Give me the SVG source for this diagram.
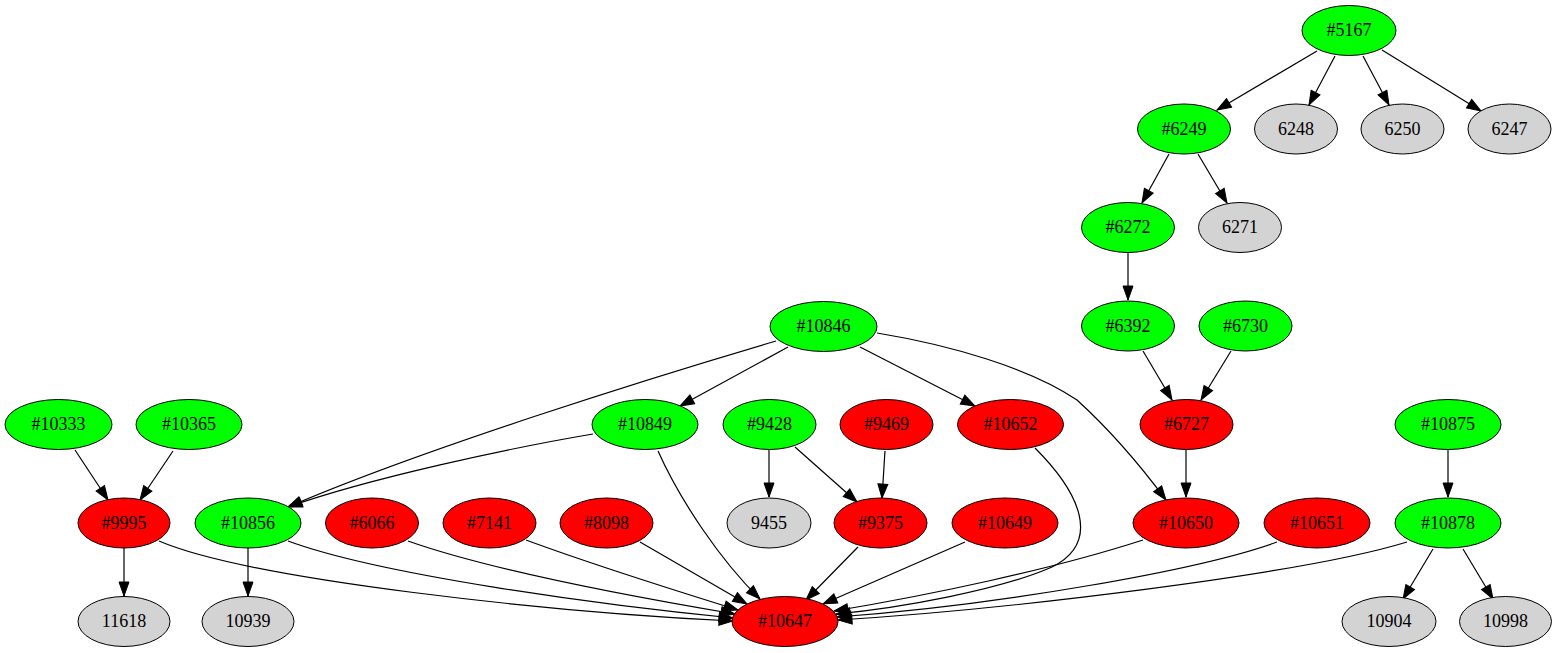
<svg xmlns="http://www.w3.org/2000/svg" width="1559" height="653" viewBox="0 0 1559 653">
<style>
.g ellipse{stroke:#000;stroke-width:1}
.green{fill:#00ff00}
.red{fill:#ff0000}
.grey{fill:#d3d3d3}
text{font-family:"Liberation Serif","Times New Roman",serif;font-size:18px;text-anchor:middle;fill:#000}
.edges path{fill:none;stroke:#000;stroke-width:1.2;marker-end:url(#ah)}
</style>
<defs>
<marker id="ah" markerWidth="14" markerHeight="10" refX="14" refY="5" orient="auto" markerUnits="userSpaceOnUse" overflow="visible">
<path d="M0,0 L14,5 L0,10 z" fill="#000" stroke="#000" stroke-width="1"/>
</marker>
</defs>
<rect width="1559" height="653" fill="#fff"/>
<g class="edges">
<path d="M1317,51 L1217,110"/>
<path d="M1335,56 L1309,105"/>
<path d="M1363,56 L1389,105"/>
<path d="M1382,50 L1481,111"/>
<path d="M1169,154 L1142,203"/>
<path d="M1198,154 L1227,203"/>
<path d="M1128,253 L1128,300"/>
<path d="M1143,351 L1172,400"/>
<path d="M1231,351 L1201,400"/>
<path d="M1186,450 L1186,497"/>
<path d="M788,347 L680,406"/>
<path d="M776,341 C650,378 420,450 288,507"/>
<path d="M593,434 C510,448 370,478 288,507"/>
<path d="M860,347 L975,406"/>
<path d="M877,333 C950,345 1030,368 1077,400 C1110,430 1140,465 1166,500"/>
<path d="M658,451 C680,500 720,560 760,599"/>
<path d="M769,450 L769,497"/>
<path d="M795,447 L857,502"/>
<path d="M885,451 L882,498"/>
<path d="M75,450 L108,500"/>
<path d="M173,451 L140,500"/>
<path d="M124,548 L124,596"/>
<path d="M248,548 L248,596"/>
<path d="M1448,450 L1448,497"/>
<path d="M1433,549 L1403,599"/>
<path d="M1463,549 L1493,599"/>
<path d="M159,541 C250,580 550,612 733,621"/>
<path d="M288,541 C380,575 600,605 733,618"/>
<path d="M408,541 C490,570 640,598 735,614"/>
<path d="M526,540 C580,560 680,592 738,610"/>
<path d="M640,542 L747,604"/>
<path d="M858,547 L806,600"/>
<path d="M965,542 L823,604"/>
<path d="M1035,448 C1080,493 1102,542 1052,567 C1000,590 900,608 836,614"/>
<path d="M1143,540 C1050,570 930,595 834,611"/>
<path d="M1277,542 C1200,570 1000,605 837,617"/>
<path d="M1407,542 C1300,575 1000,610 838,620"/>
</g>
<g class="g" id="n5167"><ellipse class="green" cx="1349" cy="30.5" rx="47" ry="25"/><text x="1349" y="36">#5167</text></g>
<g class="g" id="n6249"><ellipse class="green" cx="1184" cy="129" rx="46.5" ry="25"/><text x="1184" y="134.5">#6249</text></g>
<g class="g" id="n6248"><ellipse class="grey" cx="1296" cy="129" rx="41.5" ry="25"/><text x="1296" y="134.5">6248</text></g>
<g class="g" id="n6250"><ellipse class="grey" cx="1402.5" cy="129" rx="41.5" ry="25"/><text x="1402.5" y="134.5">6250</text></g>
<g class="g" id="n6247"><ellipse class="grey" cx="1509.5" cy="129" rx="41.5" ry="25"/><text x="1509.5" y="134.5">6247</text></g>
<g class="g" id="n6272"><ellipse class="green" cx="1128" cy="227.5" rx="46.5" ry="25"/><text x="1128" y="233">#6272</text></g>
<g class="g" id="n6271"><ellipse class="grey" cx="1240" cy="227.5" rx="41.5" ry="25"/><text x="1240" y="233">6271</text></g>
<g class="g" id="n10846"><ellipse class="green" cx="823.5" cy="326.5" rx="53.5" ry="25"/><text x="823.5" y="332">#10846</text></g>
<g class="g" id="n6392"><ellipse class="green" cx="1128" cy="326" rx="46.5" ry="25"/><text x="1128" y="331.5">#6392</text></g>
<g class="g" id="n6730"><ellipse class="green" cx="1245.5" cy="326" rx="46.5" ry="25"/><text x="1245.5" y="331.5">#6730</text></g>
<g class="g" id="n10333"><ellipse class="green" cx="58.5" cy="424.5" rx="53.5" ry="25"/><text x="58.5" y="430">#10333</text></g>
<g class="g" id="n10365"><ellipse class="green" cx="189" cy="424.5" rx="53" ry="25"/><text x="189" y="430">#10365</text></g>
<g class="g" id="n10849"><ellipse class="green" cx="645" cy="424.5" rx="53" ry="25"/><text x="645" y="430">#10849</text></g>
<g class="g" id="n9428"><ellipse class="green" cx="769.5" cy="424.5" rx="46.5" ry="25"/><text x="769.5" y="430">#9428</text></g>
<g class="g" id="n9469"><ellipse class="red" cx="886.5" cy="424.5" rx="46.5" ry="25"/><text x="886.5" y="430">#9469</text></g>
<g class="g" id="n10652"><ellipse class="red" cx="1010.5" cy="424.5" rx="53" ry="25"/><text x="1010.5" y="430">#10652</text></g>
<g class="g" id="n6727"><ellipse class="red" cx="1186.5" cy="424.5" rx="46.5" ry="25"/><text x="1186.5" y="430">#6727</text></g>
<g class="g" id="n10875"><ellipse class="green" cx="1448" cy="424.5" rx="53" ry="25"/><text x="1448" y="430">#10875</text></g>
<g class="g" id="n9995"><ellipse class="red" cx="124" cy="523" rx="46" ry="25"/><text x="124" y="528.5">#9995</text></g>
<g class="g" id="n10856"><ellipse class="green" cx="248" cy="523" rx="53" ry="25"/><text x="248" y="528.5">#10856</text></g>
<g class="g" id="n6066"><ellipse class="red" cx="372" cy="523" rx="46.5" ry="25"/><text x="372" y="528.5">#6066</text></g>
<g class="g" id="n7141"><ellipse class="red" cx="489.5" cy="523" rx="46.5" ry="25"/><text x="489.5" y="528.5">#7141</text></g>
<g class="g" id="n8098"><ellipse class="red" cx="606.5" cy="523" rx="46.5" ry="25"/><text x="606.5" y="528.5">#8098</text></g>
<g class="g" id="n9455"><ellipse class="grey" cx="769" cy="523" rx="42" ry="25"/><text x="769" y="528.5">9455</text></g>
<g class="g" id="n9375"><ellipse class="red" cx="880.5" cy="523" rx="46.5" ry="25"/><text x="880.5" y="528.5">#9375</text></g>
<g class="g" id="n10649"><ellipse class="red" cx="1005" cy="523" rx="53" ry="25"/><text x="1005" y="528.5">#10649</text></g>
<g class="g" id="n10650"><ellipse class="red" cx="1186" cy="523" rx="53" ry="25"/><text x="1186" y="528.5">#10650</text></g>
<g class="g" id="n10651"><ellipse class="red" cx="1317" cy="523" rx="53" ry="25"/><text x="1317" y="528.5">#10651</text></g>
<g class="g" id="n10878"><ellipse class="green" cx="1448" cy="523" rx="53" ry="25"/><text x="1448" y="528.5">#10878</text></g>
<g class="g" id="n11618"><ellipse class="grey" cx="124" cy="621.5" rx="46" ry="25"/><text x="124" y="627">11618</text></g>
<g class="g" id="n10939"><ellipse class="grey" cx="248" cy="621.5" rx="46" ry="25"/><text x="248" y="627">10939</text></g>
<g class="g" id="n10647"><ellipse class="red" cx="785" cy="621.5" rx="53" ry="25"/><text x="785" y="627">#10647</text></g>
<g class="g" id="n10904"><ellipse class="grey" cx="1389" cy="621.5" rx="47" ry="25"/><text x="1389" y="627">10904</text></g>
<g class="g" id="n10998"><ellipse class="grey" cx="1505.5" cy="621.5" rx="46" ry="25"/><text x="1505.5" y="627">10998</text></g>
</svg>
